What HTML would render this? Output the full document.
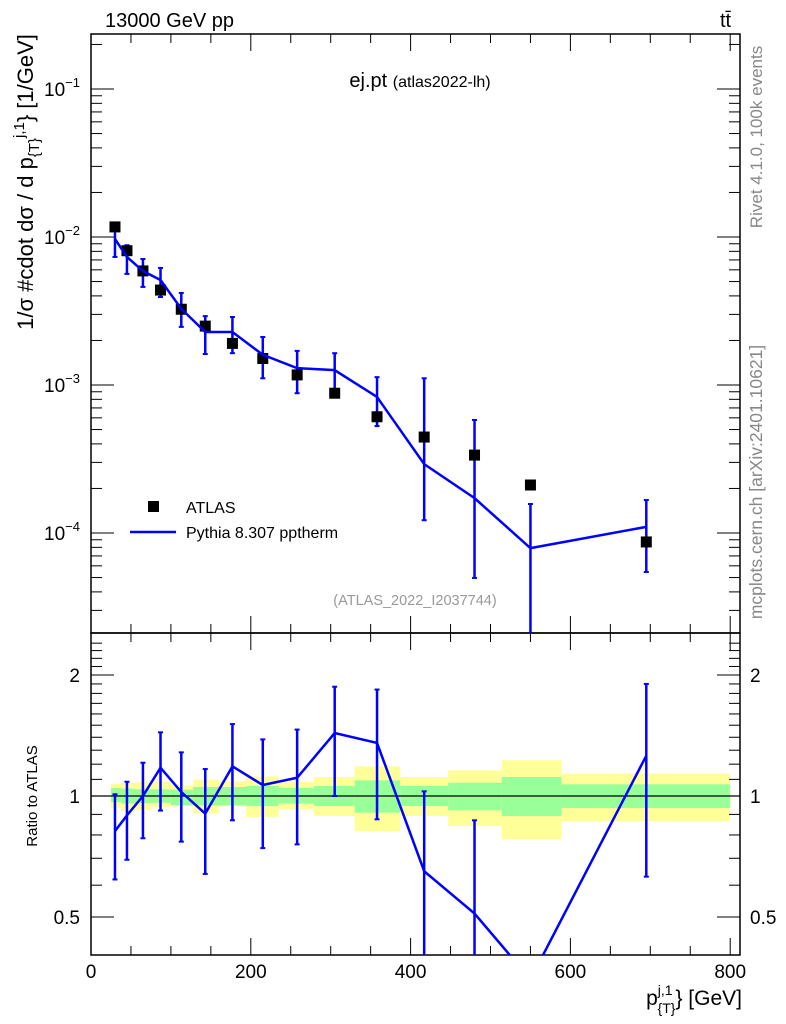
<!DOCTYPE html>
<html><head><meta charset="utf-8"><style>
body{margin:0;background:#fff;}
svg{display:block;font-family:"Liberation Sans",sans-serif;}
</style></head><body>
<svg id="c" width="786" height="1024" viewBox="0 0 786 1024">
<text x="105" y="27" font-size="20">13000 GeV pp</text>
<text x="720" y="27" font-size="20">tt̄</text>
<text x="420" y="87" font-size="20" text-anchor="middle">ej.pt <tspan font-size="16">(atlas2022-lh)</tspan></text>
<text x="415" y="605" font-size="14.5" fill="#999" text-anchor="middle">(ATLAS_2022_I2037744)</text>
<text transform="translate(762,137) rotate(-90)" font-size="17" fill="#888" text-anchor="middle">Rivet 4.1.0,  100k events</text>
<text transform="translate(762,482) rotate(-90)" font-size="17.5" fill="#888" text-anchor="middle">mcplots.cern.ch [arXiv:2401.10621]</text>
<text transform="translate(33,182) rotate(-90)" font-size="22" text-anchor="middle">1/σ #cdot dσ / d p<tspan font-size="15" dy="6">{T}</tspan><tspan font-size="15" dy="-15">j,1</tspan><tspan dy="9">} [1/GeV]</tspan></text>
<text transform="translate(37,796) rotate(-90)" font-size="15" text-anchor="middle">Ratio to ATLAS</text>
<text x="742" y="1005" font-size="21" text-anchor="end">p<tspan font-size="14" dy="-10">j,1</tspan><tspan font-size="14" dx="-15" dy="18">{T}</tspan><tspan dy="-8">} [GeV]</tspan></text>
<g id="bands"></g><g id="grid"></g><g id="marks"></g>
<g>
<rect x="148" y="501" width="11" height="11" fill="#000"/>
<text x="186" y="513" font-size="16">ATLAS</text>
<line x1="130" y1="532" x2="176" y2="532" stroke="#00f" stroke-width="2.5"/>
<text x="186" y="538" font-size="16">Pythia 8.307 pptherm</text>
</g>
</svg>
<script>
const xs=[30,45,65,87,113,143,177,215,258,305,358,417,480,550,695];
const dataY=[1.17e-2,8.08e-3,5.9e-3,4.38e-3,3.25e-3,2.5e-3,1.91e-3,1.51e-3,1.17e-3,8.8e-4,6.1e-4,4.45e-4,3.36e-4,2.11e-4,8.7e-5];
const mcY=[9.7e-3,7.33e-3,5.89e-3,5.12e-3,3.27e-3,2.28e-3,2.28e-3,1.6e-3,1.3e-3,1.26e-3,8.3e-4,2.92e-4,1.72e-4,7.9e-5,1.1e-4];
const mcUp=[1.19e-2,8.8e-3,7.1e-3,6.18e-3,4.19e-3,2.92e-3,2.88e-3,2.11e-3,1.7e-3,1.64e-3,1.13e-3,1.11e-3,5.8e-4,1.57e-4,1.67e-4];
const mcDn=[7.33e-3,5.63e-3,4.6e-3,3.93e-3,2.47e-3,1.62e-3,1.64e-3,1.11e-3,8.8e-4,8.9e-4,5.28e-4,1.22e-4,4.97e-5,1e-5,5.45e-5];
const ratio=[0.818,0.895,1.0,1.176,1.023,0.904,1.185,1.065,1.11,1.434,1.355,0.65,0.51,0.35,1.26];
const ratioUp=[1.01,1.085,1.21,1.44,1.284,1.167,1.51,1.383,1.463,1.87,1.84,1.027,0.87,0.3,1.9];
const ratioDn=[0.62,0.694,0.785,0.92,0.77,0.64,0.87,0.742,0.758,1.0,0.875,0.3,0.3,0.3,0.63];
const binEdges=[25,38,55,75,100,128,160,194,235,279,330,387,447,514,589,800];
const greenUp=[1.047,1.043,1.039,1.039,1.037,1.053,1.053,1.059,1.047,1.059,1.094,1.059,1.079,1.115,1.069];
const greenDn=[0.966,0.957,0.96,0.962,0.948,0.948,0.948,0.944,0.957,0.944,0.909,0.944,0.921,0.892,0.934];
const yellowUp=[1.073,1.077,1.083,1.087,1.063,1.098,1.087,1.119,1.083,1.115,1.185,1.115,1.158,1.227,1.137];
const yellowDn=[0.934,0.916,0.921,0.939,0.944,0.904,0.944,0.887,0.926,0.892,0.817,0.892,0.842,0.78,0.865];
const xTicks=[0,200,400,600,800];
const yTicks=[-1,-2,-3,-4];
const rTicks=[0.5,1,2];

const NS='http://www.w3.org/2000/svg';
const L=91,R=740,T=34,M=633,B=955;
const X=v=>L+v*0.799;
const Y=v=>89+(-1-Math.log10(v))*148;
const RY=v=>796-Math.log10(v)*402;
function mk(p,tag,a){const e=document.createElementNS(NS,tag);for(const k in a)e.setAttribute(k,a[k]);p.appendChild(e);return e;}
const bands=document.getElementById('bands'),grid=document.getElementById('grid'),marks=document.getElementById('marks');
const cl=v=>Math.max(M,Math.min(B,v));
for(let i=0;i<greenUp.length;i++){
  let e=mk(bands,'rect',{x:X(binEdges[i]),width:X(binEdges[i+1])-X(binEdges[i]),y:RY(yellowUp[i]),height:RY(yellowDn[i])-RY(yellowUp[i]),fill:'#ffff99'});
  
  
  let g=mk(bands,'rect',{x:X(binEdges[i]),width:X(binEdges[i+1])-X(binEdges[i]),y:RY(greenUp[i]),height:RY(greenDn[i])-RY(greenUp[i]),fill:'#99ff99'});
  
  
}
let f1=mk(grid,'rect',{x:L,y:T,width:R-L,height:M-T,fill:'none',stroke:'#000','stroke-width':1.5});


let f2=mk(grid,'rect',{x:L,y:M,width:R-L,height:B-M,fill:'none',stroke:'#000','stroke-width':1.5});


let one=mk(grid,'line',{x1:L,x2:R,y1:RY(1),y2:RY(1),stroke:'#000','stroke-width':1.2});


for(let v=0;v<=800;v+=50){
  const maj=v%200===0,len=maj?17:9,x=X(v);
  for(const [y0,d] of [[T,1],[M,-1],[M,1],[B,-1]]) mk(grid,'line',{x1:x,x2:x,y1:y0,y2:y0+d*len,stroke:'#000','stroke-width':1});
}
xTicks.forEach(v=>{const t=mk(grid,'text',{x:X(v),y:978,'font-size':19,'text-anchor':'middle'});t.textContent=v;

});
for(let d=-5;d<=-1;d++)for(let m=1;m<10;m++){const v=m*Math.pow(10,d),y=Y(v);if(y<T||y>M)continue;const len=m===1?23:11;
  mk(grid,'line',{x1:L,x2:L+len,y1:y,y2:y,stroke:'#000'});mk(grid,'line',{x1:R,x2:R-len,y1:y,y2:y,stroke:'#000'});}
yTicks.forEach(d=>{const t=mk(grid,'text',{x:80,y:Y(Math.pow(10,d))+7,'font-size':19,'text-anchor':'end'});t.innerHTML='10<tspan font-size="13" dy="-9">'+(d<0?'−':'')+Math.abs(d)+'</tspan>';

});
for(let v=0.4;v<=2.5;v+=0.1){const y=RY(v);if(y<M||y>B)continue;const r=Math.round(v*10)/10;const maj=(r===0.5||r===1||r===2);const len=maj?23:11;
  mk(grid,'line',{x1:L,x2:L+len,y1:y,y2:y,stroke:'#000'});mk(grid,'line',{x1:R,x2:R-len,y1:y,y2:y,stroke:'#000'});}
rTicks.forEach(v=>{for(const [x,a] of [[80,'end'],[750,'start']]){const t=mk(grid,'text',{x:x,y:RY(v)+7,'font-size':19,'text-anchor':a});t.textContent=v;

}});
const cm=v=>Math.max(T,Math.min(M,v));
xs.forEach((x,i)=>{
  let e=mk(marks,'line',{x1:X(x),x2:X(x),y1:cm(Y(mcUp[i])),y2:cm(Y(mcDn[i])),stroke:'#00f','stroke-width':2.5});
  
  
  [mcUp[i],mcDn[i]].forEach(v=>{if(Y(v)<M)mk(marks,'line',{x1:X(x)-2.5,x2:X(x)+2.5,y1:Y(v),y2:Y(v),stroke:'#00f','stroke-width':2});});
  let r=mk(marks,'rect',{x:X(x)-5.5,y:Y(dataY[i])-5.5,width:11,height:11,fill:'#000'});
  
  
});
let pl=mk(marks,'polyline',{points:xs.map((x,i)=>X(x)+','+Y(mcY[i])).join(' '),fill:'none',stroke:'#00f','stroke-width':2.5});


const cp=mk(marks,'clipPath',{id:'rc'});mk(cp,'rect',{x:L,y:M,width:R-L,height:B-M});
const rg=mk(marks,'g',{'clip-path':'url(#rc)'});
xs.forEach((x,i)=>{
  let e=mk(rg,'line',{x1:X(x),x2:X(x),y1:cl(RY(ratioUp[i])),y2:cl(RY(ratioDn[i])),stroke:'#00f','stroke-width':2.5});
  
  
  [ratioUp[i],ratioDn[i]].forEach(v=>{if(RY(v)<B-1)mk(rg,'line',{x1:X(x)-2.5,x2:X(x)+2.5,y1:RY(v),y2:RY(v),stroke:'#00f','stroke-width':2});});
});
let rl=mk(rg,'polyline',{points:xs.map((x,i)=>X(x)+','+RY(ratio[i])).join(' '),fill:'none',stroke:'#00f','stroke-width':2.5});


</script>
</body></html>
